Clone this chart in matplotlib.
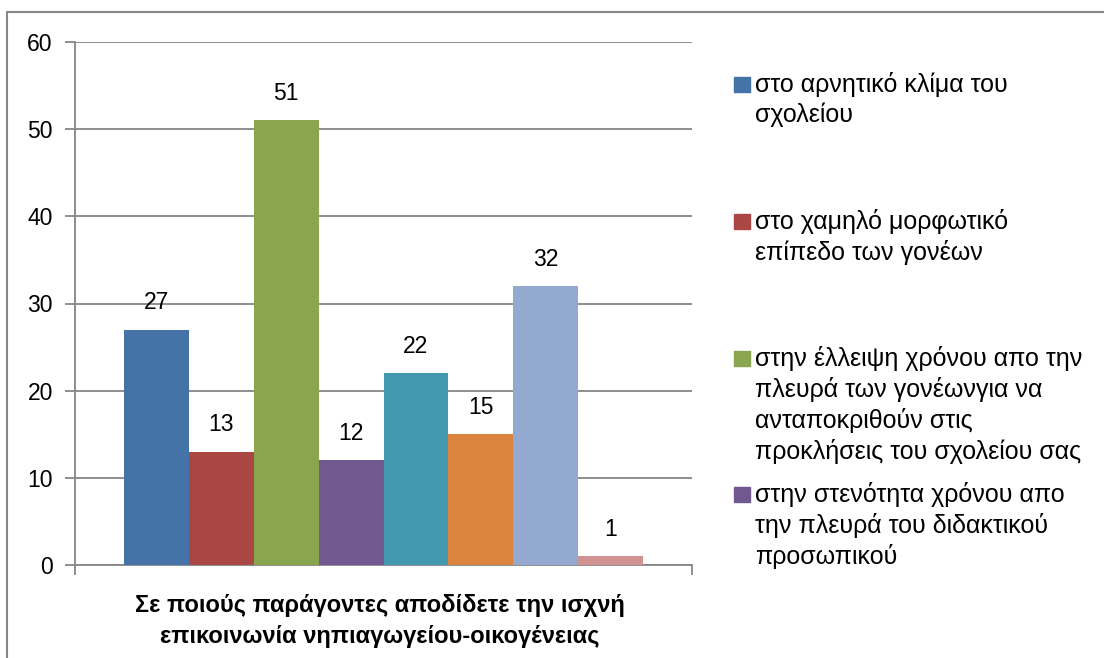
import matplotlib.pyplot as plt
from matplotlib.patches import Rectangle
import numpy as np

# data
values = [27, 13, 51, 12, 22, 15, 32, 1]
colors = ["#4572A7", "#AA4643", "#89A54E", "#71588F",
          "#4198AF", "#DB843D", "#93A9CF", "#D19392"]
legend_labels = [
    "στο αρνητικό κλίμα του\nσχολείου",
    "στο χαμηλό μορφωτικό\nεπίπεδο των γονέων",
    "στην έλλειψη χρόνου απο την\nπλευρά των γονέωνγια να\nανταποκριθούν στις\nπροκλήσεις του σχολείου σας",
    "στην στενότητα χρόνου απο\nτην πλευρά του διδακτικού\nπροσωπικού",
]
category = "Σε ποιούς παράγοντες αποδίδετε την ισχνή\nεπικοινωνία νηπιαγωγείου-οικογένειας"
yticks = [0, 10, 20, 30, 40, 50, 60]

plt.rcParams['font.family'] = ['Liberation Sans', 'DejaVu Sans']

W, H = 1104, 658
fig = plt.figure(figsize=(W / 100, H / 100), dpi=100)
ax = fig.add_axes([75 / W, 1 - 565 / H, (692 - 75) / W, (565 - 42) / H])

grid_c = "#868686"
x = np.arange(len(values))
ax.bar(x, values, width=1.0, color=colors, zorder=3)
for xi, v in zip(x, values):
    ax.annotate(str(v), (xi, v), xytext=(0, 11), textcoords="offset points",
                ha="center", va="bottom", fontsize=16.5, color="black")

ax.set_xlim(-1.25, 8.25)
ax.set_ylim(0, 60)
ax.set_yticks(yticks)
ax.tick_params(axis="y", length=7, color=grid_c, width=1.3, labelsize=16.5, pad=9)
ax.yaxis.grid(True, color=grid_c, linewidth=1.3, zorder=0)
ax.set_xticks([-1.25, 8.25])
ax.set_xticklabels(["", ""])
ax.tick_params(axis="x", length=7, color=grid_c, width=1.3)
for s in ["top", "right"]:
    ax.spines[s].set_visible(False)
for s in ["left", "bottom"]:
    ax.spines[s].set_color(grid_c)
    ax.spines[s].set_linewidth(1.3)

fig.text(380 / W, 1 - 621 / H, category, ha="center", va="center",
         fontsize=17, fontweight="bold", linespacing=1.45,
         family=['Liberation Sans Narrow', 'Liberation Sans', 'DejaVu Sans'])

# legend, drawn by hand so each entry keeps its own slot
slot_y = [84, 221, 358, 494]
for lab, c, yy in zip(legend_labels, colors, slot_y):
    fig.patches.append(Rectangle((734 / W, 1 - (yy + 8) / H), 16 / W, 15 / H,
                                 transform=fig.transFigure, color=c))
    fig.text(755 / W, 1 - (yy - 12) / H, lab, ha="left", va="top",
             fontsize=18, linespacing=1.3)

# chart frame (cropped at right and bottom)
fig.patches.append(Rectangle((7 / W, -0.1), 1.2, 1 - 12 / H + 0.1,
                             transform=fig.transFigure, fill=False,
                             edgecolor=grid_c, linewidth=1.5))

fig.savefig("out.png", dpi=100)
